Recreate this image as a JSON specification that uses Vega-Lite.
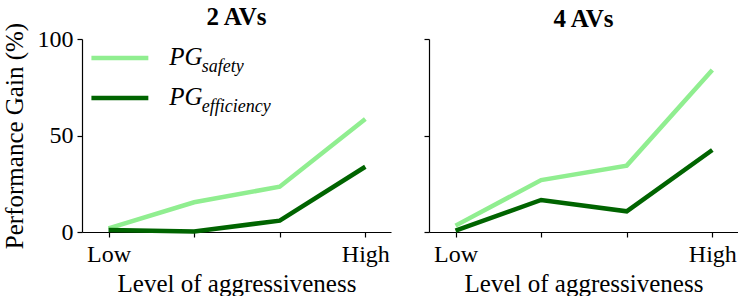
{
  "$schema": "https://vega.github.io/schema/vega-lite/v6.json",
  "padding": {"left": 2, "top": 5, "right": 0, "bottom": 0},
  "background": "white",
  "spacing": 32,
  "datasets": {
    "gain": [
      {"panel": "2 AVs", "series": "safety", "level": 0, "value": 1.9},
      {"panel": "2 AVs", "series": "safety", "level": 1, "value": 15.4},
      {"panel": "2 AVs", "series": "safety", "level": 2, "value": 23.5},
      {"panel": "2 AVs", "series": "safety", "level": 3, "value": 58.5},
      {"panel": "2 AVs", "series": "efficiency", "level": 0, "value": 1.0},
      {"panel": "2 AVs", "series": "efficiency", "level": 1, "value": 0.3},
      {"panel": "2 AVs", "series": "efficiency", "level": 2, "value": 5.9},
      {"panel": "2 AVs", "series": "efficiency", "level": 3, "value": 33.8},
      {"panel": "4 AVs", "series": "safety", "level": 0, "value": 3.3},
      {"panel": "4 AVs", "series": "safety", "level": 1, "value": 26.9},
      {"panel": "4 AVs", "series": "safety", "level": 2, "value": 34.4},
      {"panel": "4 AVs", "series": "safety", "level": 3, "value": 83.9},
      {"panel": "4 AVs", "series": "efficiency", "level": 0, "value": 0.7},
      {"panel": "4 AVs", "series": "efficiency", "level": 1, "value": 16.6},
      {"panel": "4 AVs", "series": "efficiency", "level": 2, "value": 10.7},
      {"panel": "4 AVs", "series": "efficiency", "level": 3, "value": 42.5}
    ],
    "legend": [
      {"series": "safety", "main": "PG", "sub": "safety"},
      {"series": "efficiency", "main": "PG", "sub": "efficiency"}
    ]
  },
  "hconcat": [
    {
      "width": 309, "height": 193,
      "view": {"stroke": null},
      "title": {"text": "2 AVs", "offset": -8, "font": "Liberation Serif", "fontSize": 25, "fontWeight": "bold", "color": "#000"},
      "layer": [
        {
          "data": {"name": "gain"},
          "transform": [{"filter": "datum.panel == '2 AVs'"}],
          "mark": {"type": "line", "strokeWidth": 4.5},
          "encoding": {
            "x": {"field": "level", "type": "quantitative",
              "scale": {"domain": [-0.31, 3.3], "nice": false, "zero": false},
              "axis": {"values": [0, 1, 2, 3], "labelExpr": "datum.value == 0 ? 'Low' : datum.value == 3 ? 'High' : ''",
                "title": "Level of aggressiveness", "labelPadding": 5, "titlePadding": 5, "labelFlush": false,
                "grid": false, "domainColor": "#000", "tickColor": "#000", "labelColor": "#000", "titleColor": "#000",
                "labelFont": "Liberation Serif", "titleFont": "Liberation Serif", "labelFontSize": 24, "titleFontSize": 25,
                "titleFontWeight": "normal", "tickSize": 5, "domainWidth": 1.2, "tickWidth": 1.2}},
            "y": {"field": "value", "type": "quantitative",
              "scale": {"domain": [0, 100], "nice": false},
              "axis": {"values": [0, 50, 100], "title": "Performance Gain (%)", "labelPadding": 4, "titlePadding": 10,
                "grid": false, "domainColor": "#000", "tickColor": "#000", "labelColor": "#000", "titleColor": "#000",
                "labelFont": "Liberation Serif", "titleFont": "Liberation Serif", "labelFontSize": 24, "titleFontSize": 25,
                "titleFontWeight": "normal", "tickSize": 5, "domainWidth": 1.2, "tickWidth": 1.2}},
            "color": {"field": "series", "type": "nominal",
              "scale": {"domain": ["safety", "efficiency"], "range": ["#90ee90", "#006400"]}, "legend": null}
          }
        },
        {
          "data": {"name": "legend"},
          "transform": [{"filter": "datum.series == 'safety'"}],
          "mark": {"type": "rule", "strokeWidth": 4.5},
          "encoding": {
            "x": {"datum": -0.2, "type": "quantitative"}, "x2": {"datum": 0.465},
            "y": {"datum": 90.2, "type": "quantitative"},
            "color": {"field": "series", "type": "nominal"}
          }
        },
        {
          "data": {"name": "legend"},
          "transform": [{"filter": "datum.series == 'efficiency'"}],
          "mark": {"type": "rule", "strokeWidth": 4.5},
          "encoding": {
            "x": {"datum": -0.2, "type": "quantitative"}, "x2": {"datum": 0.465},
            "y": {"datum": 69.4, "type": "quantitative"},
            "color": {"field": "series", "type": "nominal"}
          }
        },
        {
          "data": {"name": "legend"},
          "transform": [{"filter": "datum.series == 'safety'"}],
          "mark": {"type": "text", "align": "left", "baseline": "alphabetic", "fontStyle": "italic", "fontSize": 25, "dy": 7, "color": "#000", "font": "Liberation Serif"},
          "encoding": {
            "x": {"datum": 0.71, "type": "quantitative"},
            "y": {"datum": 90.2, "type": "quantitative"},
            "text": {"field": "main"}
          }
        },
        {
          "data": {"name": "legend"},
          "transform": [{"filter": "datum.series == 'safety'"}],
          "mark": {"type": "text", "align": "left", "baseline": "alphabetic", "fontStyle": "italic", "fontSize": 18, "dy": 14, "color": "#000", "font": "Liberation Serif"},
          "encoding": {
            "x": {"datum": 1.09, "type": "quantitative"},
            "y": {"datum": 90.2, "type": "quantitative"},
            "text": {"field": "sub"}
          }
        },
        {
          "data": {"name": "legend"},
          "transform": [{"filter": "datum.series == 'efficiency'"}],
          "mark": {"type": "text", "align": "left", "baseline": "alphabetic", "fontStyle": "italic", "fontSize": 25, "dy": 7, "color": "#000", "font": "Liberation Serif"},
          "encoding": {
            "x": {"datum": 0.71, "type": "quantitative"},
            "y": {"datum": 69.4, "type": "quantitative"},
            "text": {"field": "main"}
          }
        },
        {
          "data": {"name": "legend"},
          "transform": [{"filter": "datum.series == 'efficiency'"}],
          "mark": {"type": "text", "align": "left", "baseline": "alphabetic", "fontStyle": "italic", "fontSize": 18, "dy": 14, "color": "#000", "font": "Liberation Serif"},
          "encoding": {
            "x": {"datum": 1.09, "type": "quantitative"},
            "y": {"datum": 69.4, "type": "quantitative"},
            "text": {"field": "sub"}
          }
        }
      ]
    },
    {
      "width": 309, "height": 193,
      "view": {"stroke": null},
      "title": {"text": "4 AVs", "offset": 6, "font": "Liberation Serif", "fontSize": 25, "fontWeight": "bold", "color": "#000"},
      "data": {"name": "gain"},
      "transform": [{"filter": "datum.panel == '4 AVs'"}],
      "mark": {"type": "line", "strokeWidth": 4.5},
      "encoding": {
        "x": {"field": "level", "type": "quantitative",
          "scale": {"domain": [-0.31, 3.3], "nice": false, "zero": false},
          "axis": {"values": [0, 1, 2, 3], "labelExpr": "datum.value == 0 ? 'Low' : datum.value == 3 ? 'High' : ''",
            "title": "Level of aggressiveness", "labelPadding": 5, "titlePadding": 5, "labelFlush": false,
            "grid": false, "domainColor": "#000", "tickColor": "#000", "labelColor": "#000", "titleColor": "#000",
            "labelFont": "Liberation Serif", "titleFont": "Liberation Serif", "labelFontSize": 24, "titleFontSize": 25,
            "titleFontWeight": "normal", "tickSize": 5, "domainWidth": 1.2, "tickWidth": 1.2}},
        "y": {"field": "value", "type": "quantitative",
          "scale": {"domain": [0, 100], "nice": false},
          "axis": {"values": [0, 50, 100], "labels": false, "title": null,
            "grid": false, "domainColor": "#000", "tickColor": "#000", "tickSize": 5, "domainWidth": 1.2, "tickWidth": 1.2}},
        "color": {"field": "series", "type": "nominal",
          "scale": {"domain": ["safety", "efficiency"], "range": ["#90ee90", "#006400"]}, "legend": null}
      }
    }
  ]
}
